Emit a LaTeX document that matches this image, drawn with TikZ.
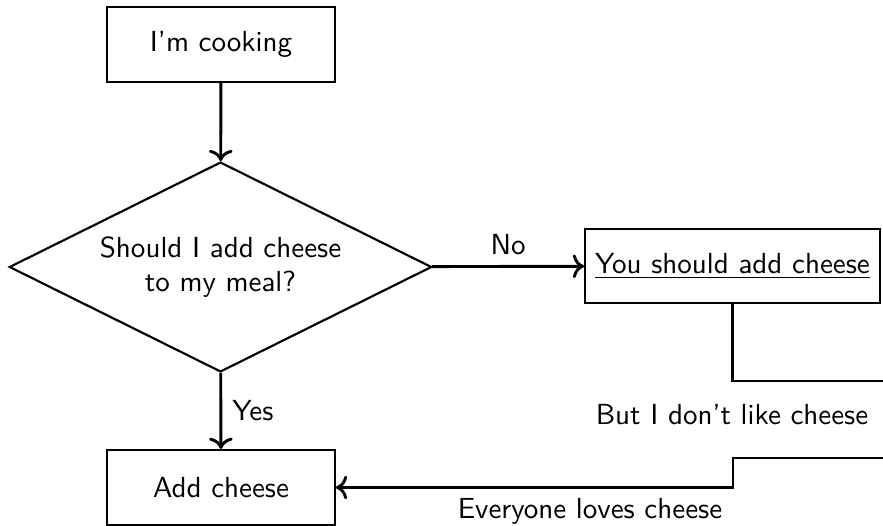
\documentclass[tikz,border=0pt]{standalone}
\usepackage{amsmath}
\usetikzlibrary{shapes.geometric}
\usetikzlibrary{arrows.meta}

\begin{document}
\begin{tikzpicture}[x=0.0115cm,y=-0.0115cm,font=\sffamily\fontsize{9.5}{11.4}\selectfont]
\tikzset{box/.style={draw,line width=0.7pt,inner sep=0pt,align=center},
  link/.style={line width=0.95pt,->}}

\useasboundingbox (0,0) rectangle (883,526);

\node[box,minimum width=2.62cm,minimum height=0.8625cm] (cook) at (221,44.5) {I'm cooking};
\node[box,diamond,aspect=2,minimum width=4.86cm,minimum height=2.415cm] (ask) at (220.5,267) {Should I add cheese\\to my meal?};
\node[box,minimum width=3.39cm,minimum height=0.85cm] (should) at (732.5,266) {\underline{You should add cheese}};
\node[box,minimum width=2.62cm,minimum height=0.8625cm] (add) at (221,487.5) {Add cheese};

\coordinate (outA) at (883,381);
\coordinate (outB) at (883,458);

\draw[link] (cook) -- (ask);
\draw[link] (ask) -- node[above] {No} (should);
\draw[link] (ask) -- node[right] {Yes} (add);
\draw[line width=0.95pt] (should.south) |- (outA);
\draw[link] (outB) -- ++(-150,0) |- (add.east);

\node (dislike) at (732,415) {But I don't like cheese};
\node (loves) at (590,511) {Everyone loves cheese};

\end{tikzpicture}
\end{document}
